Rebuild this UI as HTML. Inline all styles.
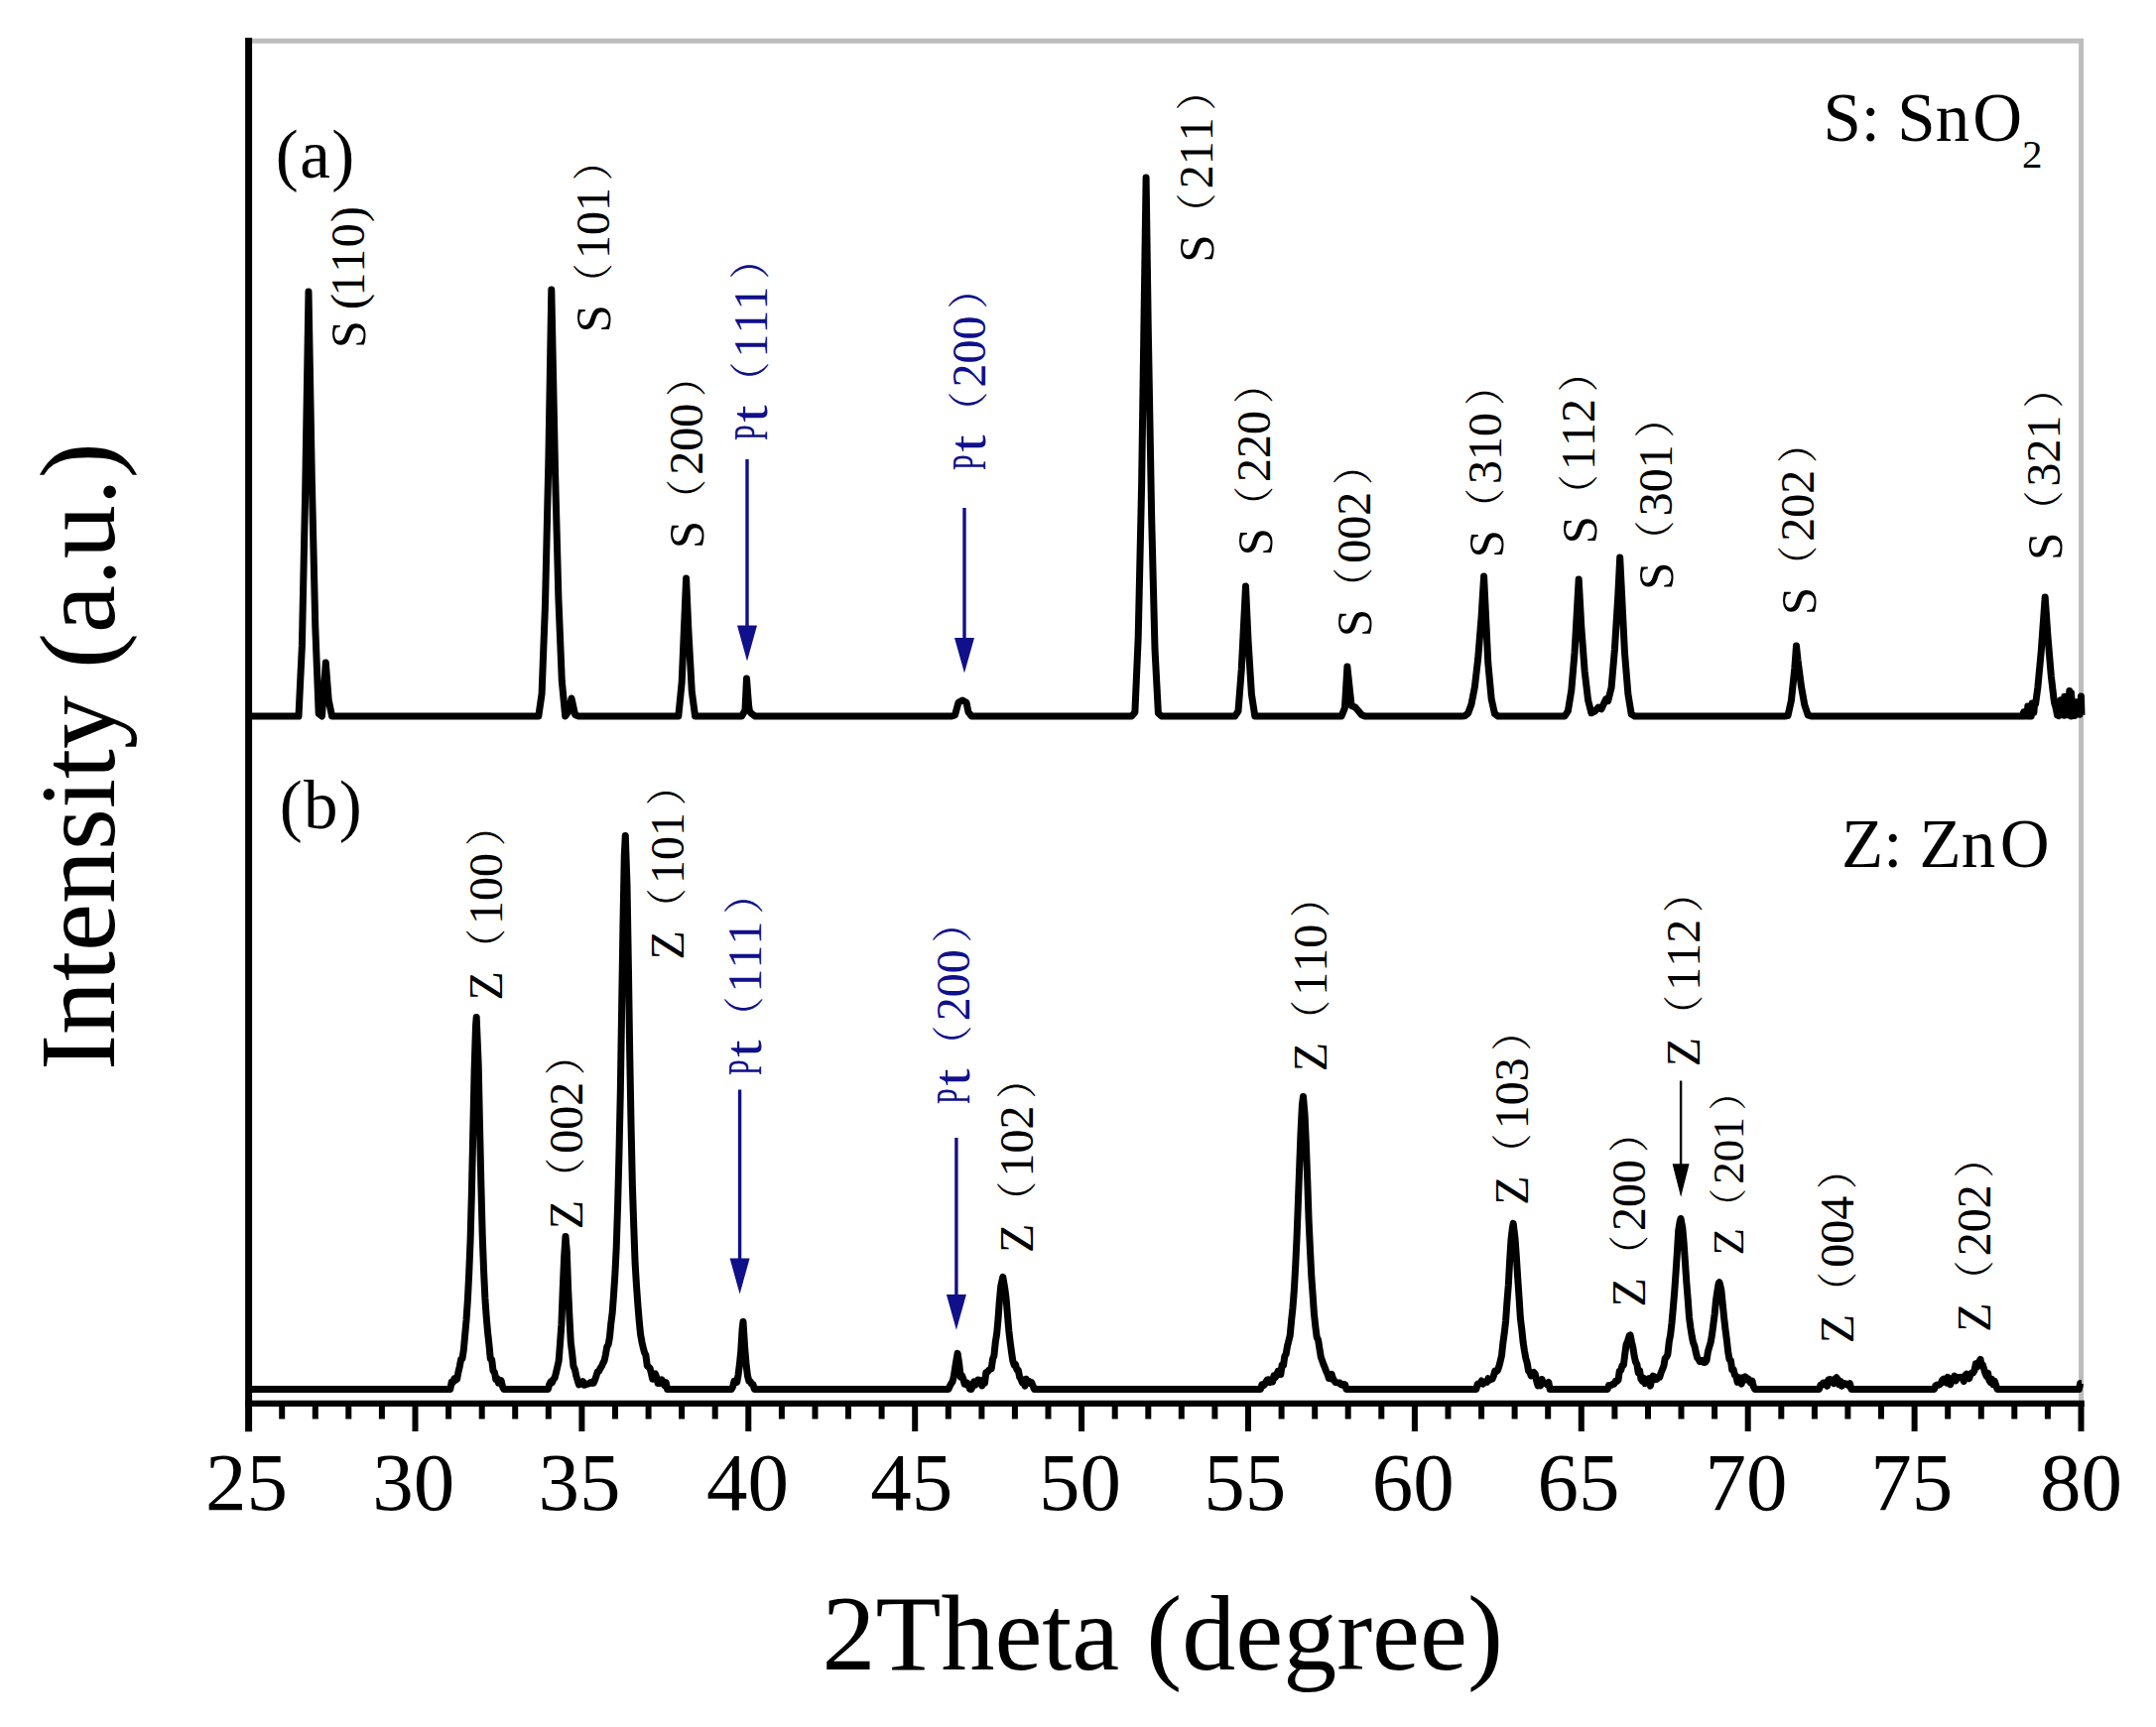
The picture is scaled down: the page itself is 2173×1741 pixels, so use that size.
<!DOCTYPE html>
<html lang="en"><head><meta charset="utf-8"><title>XRD patterns of SnO2 and ZnO</title>
<style>
html,body{margin:0;padding:0;background:#fff}
body{width:2173px;height:1741px;overflow:hidden}
svg{display:block}
text{font-family:"Liberation Serif","Noto Serif CJK SC",serif;}
text.fw{font-family:"Liberation Serif","Noto Serif CJK SC",serif;font-size:41px}
</style></head>
<body>
<svg width="2173" height="1741" viewBox="0 0 2173 1741">
<rect width="2173" height="1741" fill="#fff"/>
<path d="M254 41.3H2097.6V1412" fill="none" stroke="#bdbdbd" stroke-width="5"/>
<path d="M254.0 722.0L301.0 722.0L304.4 650.9L307.7 494.8L311.0 294.0L314.4 486.2L317.8 632.5L321.2 719.5L324.5 722.0L328.3 668.0L331.2 705.7L334.6 722.0L542.8 722.0L546.1 699.2L549.5 609.3L552.9 462.6L555.8 292.0L559.6 477.9L562.9 602.8L566.3 686.4L569.7 721.9L573.0 717.5L576.0 704.0L579.7 720.8L583.1 722.0L683.8 722.0L687.2 687.6L691.6 583.0L693.9 635.5L697.3 697.1L700.6 722.0L747.6 722.0L751.0 716.0L751.0 715.7L752.5 684.0L754.6 711.2L755.5 717.0L757.7 719.7L761.1 722.0L959.2 722.0L962.5 720.9L966.0 708.3L970.0 706.0L974.0 708.3L976.0 717.9L979.3 722.0L1140.5 722.0L1143.9 718.1L1147.2 642.5L1150.6 489.8L1155.1 179.0L1157.3 333.2L1160.7 523.1L1164.0 654.5L1167.4 719.0L1170.7 722.0L1244.6 722.0L1248.0 717.0L1251.3 674.4L1255.5 591.0L1258.0 645.1L1261.4 699.8L1264.8 722.0L1352.1 722.0L1355.4 713.6L1357.9 672.0L1362.1 711.4L1366.0 713.0L1368.9 716.4L1372.2 720.5L1375.6 722.0L1473.0 722.0L1476.3 721.8L1479.7 719.0L1483.0 710.0L1486.4 692.4L1489.7 663.7L1493.1 621.8L1495.6 581.0L1499.8 668.4L1503.2 704.8L1506.5 719.7L1509.9 722.0L1577.1 722.0L1580.4 716.6L1583.8 695.9L1587.1 657.2L1591.2 584.0L1593.8 631.9L1597.2 677.1L1600.6 705.9L1603.9 718.8L1607.3 717.2L1611.0 713.0L1614.0 714.8L1618.5 705.0L1620.7 706.6L1624.1 693.2L1627.4 654.8L1630.8 600.3L1632.7 562.0L1637.5 658.3L1640.9 699.8L1644.2 719.9L1647.6 722.0L1798.7 722.0L1802.0 721.6L1805.4 706.3L1808.8 673.8L1810.5 651.0L1812.1 666.1L1815.5 692.2L1818.8 710.7L1822.2 720.9L1825.5 722.0L2038.0 722.0L2039.7 717.8L2040.5 722.0L2041.4 717.7L2043.1 722.0L2043.8 712.0L2044.8 722.0L2046.5 715.6L2047.2 722.0L2048.2 708.9L2049.9 718.2L2050.5 709.3L2051.6 709.7L2053.9 692.6L2057.2 657.2L2061.2 602.0L2064.0 642.0L2067.3 681.3L2070.0 704.4L2070.7 709.0L2071.8 712.4L2073.5 720.7L2074.0 711.8L2075.2 721.7L2077.0 705.8L2077.4 719.5L2078.8 710.9L2080.5 721.3L2080.8 702.3L2082.2 719.2L2084.0 703.2L2084.1 720.8L2085.8 696.4L2087.5 721.9L2087.5 698.4L2089.2 721.1L2090.8 710.5L2091.0 721.6L2092.8 707.8L2094.2 719.6L2094.5 709.9L2096.2 720.3L2097.5 702.1L2098.0 720.9" fill="none" stroke="#000" stroke-width="7" stroke-linejoin="round"/>
<path d="M254.0 1400.4L453.8 1400.4L455.2 1393.2L456.5 1393.6L457.9 1389.9L459.2 1391.2L460.6 1390.3L461.9 1383.4L463.3 1377.5L464.6 1370.4L466.0 1369.6L467.3 1361.0L468.7 1345.5L470.0 1331.0L471.4 1309.9L472.7 1284.0L474.1 1249.6L475.4 1202.1L476.8 1138.9L478.1 1079.2L479.5 1034.2L480.2 1025.4L482.2 1073.8L483.5 1135.0L484.9 1195.5L486.2 1245.2L487.6 1281.9L488.9 1309.0L490.3 1328.8L491.6 1343.5L493.0 1356.0L494.3 1370.0L495.7 1370.8L497.0 1381.9L498.4 1383.2L499.7 1390.3L501.1 1389.6L502.4 1394.2L503.8 1393.8L505.1 1391.7L506.5 1397.7L507.8 1400.4L552.4 1400.4L553.7 1395.6L555.1 1392.9L556.4 1393.8L557.8 1390.4L559.1 1389.2L560.5 1383.6L561.8 1378.0L563.2 1371.7L564.5 1354.5L565.9 1335.2L567.2 1301.0L568.6 1267.8L570.0 1246.4L571.3 1261.4L572.6 1298.2L574.0 1329.0L575.3 1353.4L576.7 1364.8L578.0 1377.4L579.4 1380.4L580.7 1386.8L582.1 1391.4L583.4 1395.9L584.8 1393.3L586.1 1395.1L587.5 1392.7L588.8 1396.3L590.2 1395.9L591.5 1395.3L592.9 1395.1L594.2 1394.4L595.6 1393.4L596.9 1394.4L598.3 1394.2L599.6 1391.2L601.0 1387.0L602.3 1382.8L603.7 1382.1L605.0 1379.5L606.4 1377.4L607.7 1374.3L609.1 1371.8L610.4 1365.6L611.8 1357.5L613.1 1355.7L614.5 1347.9L615.8 1334.1L617.2 1323.2L618.5 1305.6L619.9 1284.0L621.2 1257.9L622.6 1215.2L623.9 1165.3L625.3 1100.8L626.6 1017.6L628.0 929.5L629.3 861.6L630.3 842.4L632.0 891.8L633.4 974.9L634.7 1061.6L636.1 1136.7L637.4 1195.6L638.8 1237.7L640.1 1273.3L641.5 1296.1L642.8 1314.6L644.2 1331.1L645.5 1344.6L646.9 1352.7L648.2 1358.3L649.6 1363.7L650.9 1366.1L652.3 1376.9L653.6 1377.9L655.0 1379.2L656.3 1383.9L657.7 1390.3L659.0 1385.6L660.4 1384.9L661.7 1388.3L663.1 1394.6L664.4 1394.5L665.8 1393.9L667.1 1390.9L668.5 1394.6L669.8 1396.7L671.2 1393.6L672.5 1400.4L737.3 1400.4L738.7 1397.7L740.0 1392.2L741.4 1393.2L742.7 1393.5L744.1 1385.8L745.4 1375.5L746.8 1361.7L748.1 1340.0L749.0 1332.4L750.8 1360.6L752.2 1376.8L753.5 1387.0L754.9 1392.4L756.2 1392.7L757.6 1395.4L758.9 1395.5L760.3 1400.4L956.0 1400.4L957.4 1397.1L958.7 1394.8L960.1 1392.7L961.4 1387.2L962.8 1377.8L964.1 1370.0L965.1 1364.4L966.8 1375.3L968.2 1388.2L969.5 1386.6L970.9 1390.3L972.2 1395.4L973.6 1395.7L974.9 1394.3L976.3 1397.4L977.6 1400.4L979.0 1400.4L980.3 1397.2L981.7 1392.9L983.0 1396.2L984.4 1394.3L985.7 1391.1L987.1 1391.2L988.4 1393.4L989.8 1397.0L991.1 1391.1L992.5 1394.2L993.8 1383.6L995.2 1383.0L996.5 1381.6L997.9 1380.1L999.2 1379.8L1000.6 1370.1L1001.9 1366.7L1003.3 1352.9L1004.6 1345.2L1006.0 1329.9L1007.3 1311.8L1008.7 1296.7L1010.0 1290.7L1010.8 1287.4L1012.7 1298.5L1014.1 1309.3L1015.4 1324.8L1016.8 1341.3L1018.1 1352.7L1019.5 1363.0L1020.8 1371.7L1022.2 1376.1L1023.5 1375.6L1024.9 1380.7L1026.2 1380.9L1027.6 1388.0L1028.9 1390.0L1030.3 1393.8L1031.6 1392.9L1033.0 1397.1L1034.3 1390.2L1035.7 1393.7L1037.0 1392.4L1038.4 1394.6L1039.7 1393.8L1041.1 1397.1L1042.4 1400.4L1270.5 1400.4L1271.9 1395.8L1273.2 1396.9L1274.6 1395.6L1275.9 1393.1L1277.3 1390.9L1278.6 1390.7L1280.0 1393.7L1281.3 1392.3L1282.7 1392.9L1284.0 1386.7L1285.4 1388.5L1286.7 1385.9L1288.1 1382.4L1289.4 1385.6L1290.8 1385.5L1292.1 1376.2L1293.5 1376.5L1294.8 1367.2L1296.2 1364.9L1297.5 1357.2L1298.9 1351.6L1300.2 1346.3L1301.6 1331.4L1302.9 1319.1L1304.3 1301.4L1305.6 1278.4L1307.0 1248.7L1308.3 1214.6L1309.7 1176.3L1311.0 1142.5L1312.4 1113.9L1313.5 1105.4L1315.1 1124.4L1316.4 1153.6L1317.8 1191.2L1319.1 1230.0L1320.5 1260.5L1321.8 1286.5L1323.2 1306.2L1324.5 1324.9L1325.9 1337.9L1327.2 1348.1L1328.6 1350.9L1329.9 1359.3L1331.3 1368.0L1332.6 1371.6L1334.0 1375.7L1335.3 1378.7L1336.7 1382.5L1338.0 1385.2L1339.4 1389.6L1340.7 1389.7L1342.1 1385.3L1343.4 1389.5L1344.8 1391.9L1346.1 1393.6L1347.5 1393.8L1348.8 1393.9L1350.2 1393.9L1351.5 1395.7L1352.9 1396.2L1354.2 1395.4L1355.6 1395.8L1356.9 1400.4L1487.9 1400.4L1489.2 1395.2L1490.6 1394.7L1491.9 1394.7L1493.3 1392.0L1494.6 1395.2L1496.0 1393.6L1497.3 1392.8L1498.7 1393.3L1500.0 1389.7L1501.4 1391.2L1502.7 1390.5L1504.1 1390.1L1505.4 1387.0L1506.8 1382.0L1508.1 1382.7L1509.5 1381.4L1510.8 1377.6L1512.2 1372.1L1513.5 1366.5L1514.9 1353.4L1516.2 1344.1L1517.6 1331.8L1518.9 1313.1L1520.3 1295.8L1521.6 1271.4L1523.0 1249.8L1524.3 1238.3L1525.2 1233.4L1527.0 1248.1L1528.4 1267.7L1529.7 1288.1L1531.1 1308.4L1532.4 1329.1L1533.8 1340.1L1535.1 1352.9L1536.5 1362.0L1537.8 1369.2L1539.2 1373.9L1540.5 1381.9L1541.9 1383.5L1543.2 1386.9L1544.6 1384.8L1545.9 1383.5L1547.3 1385.2L1548.6 1392.0L1550.0 1396.8L1551.3 1394.4L1552.7 1396.7L1554.0 1390.5L1555.4 1394.2L1556.7 1394.4L1558.1 1394.4L1559.4 1395.9L1560.8 1393.5L1562.1 1400.4L1620.2 1400.4L1621.5 1396.5L1622.9 1396.6L1624.2 1396.4L1625.6 1395.2L1626.9 1395.2L1628.3 1392.4L1629.6 1392.7L1631.0 1391.2L1632.3 1382.1L1633.7 1381.4L1635.0 1376.6L1636.4 1376.1L1637.7 1365.4L1639.1 1355.3L1640.4 1352.3L1642.3 1346.4L1643.1 1345.9L1644.5 1352.7L1645.8 1358.3L1647.2 1367.2L1648.5 1372.9L1649.9 1375.5L1651.2 1383.8L1652.6 1381.7L1653.9 1390.1L1655.3 1392.2L1656.6 1389.2L1658.0 1394.7L1659.3 1393.4L1660.7 1390.4L1662.0 1389.6L1663.4 1397.1L1664.7 1391.0L1666.1 1387.2L1667.4 1387.9L1668.8 1390.6L1670.1 1390.3L1671.5 1388.0L1672.8 1388.3L1674.2 1383.6L1675.5 1380.5L1676.9 1377.0L1678.2 1369.4L1679.6 1368.1L1680.9 1365.2L1682.3 1352.5L1683.6 1345.9L1685.0 1333.6L1686.3 1319.1L1687.7 1302.4L1689.0 1283.7L1690.4 1262.2L1691.7 1240.5L1693.1 1231.9L1694.0 1228.5L1695.8 1237.9L1697.1 1252.7L1698.5 1273.0L1699.8 1292.6L1701.2 1309.9L1702.5 1328.1L1703.9 1338.5L1705.2 1346.7L1706.6 1353.7L1707.9 1356.8L1709.3 1363.4L1710.6 1368.6L1712.0 1370.4L1713.3 1372.7L1714.7 1372.4L1716.0 1371.5L1717.4 1373.6L1718.7 1373.4L1720.1 1371.3L1721.4 1362.8L1722.8 1357.7L1724.1 1353.6L1725.5 1345.7L1726.8 1335.5L1728.2 1324.6L1729.5 1310.8L1730.9 1301.5L1732.2 1293.6L1732.9 1292.7L1733.6 1294.9L1734.9 1300.9L1736.3 1315.1L1737.6 1328.2L1739.0 1340.5L1740.3 1350.2L1741.7 1362.9L1743.0 1370.3L1744.4 1371.4L1745.7 1380.9L1747.1 1380.5L1748.4 1386.1L1749.8 1387.2L1751.1 1393.4L1752.5 1388.7L1753.8 1393.3L1755.2 1395.1L1756.5 1388.7L1757.9 1391.3L1759.2 1387.9L1760.6 1389.7L1762.0 1389.9L1763.3 1392.6L1764.6 1394.0L1766.0 1392.1L1767.3 1397.6L1768.7 1400.4L1833.5 1400.4L1834.8 1396.5L1836.2 1395.8L1837.5 1394.1L1838.9 1395.5L1840.2 1393.7L1841.6 1397.3L1842.9 1390.9L1844.3 1390.5L1845.6 1391.1L1847.0 1392.9L1848.3 1394.6L1849.6 1389.9L1851.0 1388.8L1852.4 1390.9L1853.7 1395.8L1855.1 1392.5L1856.4 1397.2L1857.8 1394.3L1859.1 1394.7L1860.5 1395.0L1861.8 1396.0L1863.2 1396.8L1864.5 1394.8L1865.9 1400.4L1949.6 1400.4L1950.9 1396.8L1952.3 1396.1L1953.6 1396.3L1955.0 1395.7L1956.3 1394.3L1957.7 1391.1L1959.0 1390.2L1960.4 1393.0L1961.7 1394.0L1963.1 1388.3L1964.4 1389.7L1965.8 1395.8L1967.1 1389.8L1968.5 1391.6L1969.8 1387.1L1971.2 1391.9L1972.5 1389.0L1974.0 1388.4L1975.2 1388.6L1976.6 1388.3L1977.9 1389.5L1979.3 1392.5L1980.6 1386.7L1982.0 1385.2L1983.3 1387.7L1984.7 1389.7L1986.0 1385.7L1987.4 1383.7L1988.7 1383.9L1990.1 1381.3L1991.4 1374.7L1992.8 1378.0L1994.1 1373.6L1996.1 1370.5L1996.8 1375.7L1998.2 1375.7L1999.5 1379.7L2000.9 1384.4L2002.2 1387.4L2003.6 1384.2L2004.9 1391.7L2006.3 1393.5L2007.6 1390.3L2009.0 1395.8L2010.3 1392.3L2011.7 1396.4L2013.0 1400.4L2095.4 1400.4L2096.7 1394.4L2098.0 1394.4" fill="none" stroke="#000" stroke-width="7" stroke-linejoin="round"/>
<path d="M250.6 38V1443.3" stroke="#000" stroke-width="7" fill="none"/>
<path d="M247.1 1414.8H2100.8" stroke="#000" stroke-width="6.2" fill="none"/>
<path d="M284.2 1414.8V1430.5M317.8 1414.8V1430.5M351.3 1414.8V1430.5M384.9 1414.8V1430.5M418.5 1414.8V1443M452.1 1414.8V1430.5M485.7 1414.8V1430.5M519.2 1414.8V1430.5M552.8 1414.8V1430.5M586.4 1414.8V1443M620.0 1414.8V1430.5M653.6 1414.8V1430.5M687.1 1414.8V1430.5M720.7 1414.8V1430.5M754.3 1414.8V1443M787.9 1414.8V1430.5M821.5 1414.8V1430.5M855.0 1414.8V1430.5M888.6 1414.8V1430.5M922.2 1414.8V1443M955.8 1414.8V1430.5M989.4 1414.8V1430.5M1022.9 1414.8V1430.5M1056.5 1414.8V1430.5M1090.1 1414.8V1443M1123.7 1414.8V1430.5M1157.3 1414.8V1430.5M1190.8 1414.8V1430.5M1224.4 1414.8V1430.5M1258.0 1414.8V1443M1291.6 1414.8V1430.5M1325.2 1414.8V1430.5M1358.7 1414.8V1430.5M1392.3 1414.8V1430.5M1425.9 1414.8V1443M1459.5 1414.8V1430.5M1493.1 1414.8V1430.5M1526.6 1414.8V1430.5M1560.2 1414.8V1430.5M1593.8 1414.8V1443M1627.4 1414.8V1430.5M1661.0 1414.8V1430.5M1694.5 1414.8V1430.5M1728.1 1414.8V1430.5M1761.7 1414.8V1443M1795.3 1414.8V1430.5M1828.9 1414.8V1430.5M1862.4 1414.8V1430.5M1896.0 1414.8V1430.5M1929.6 1414.8V1443M1963.2 1414.8V1430.5M1996.8 1414.8V1430.5M2030.3 1414.8V1430.5M2063.9 1414.8V1430.5M2097.5 1414.8V1443" stroke="#000" stroke-width="6" fill="none"/>
<g font-size="83" text-anchor="middle"><text x="248.4" y="1522.3">25</text><text x="416.8" y="1522.3">30</text><text x="583.9" y="1522.3">35</text><text x="753.6" y="1522.3">40</text><text x="918.7" y="1522.3">45</text><text x="1088.4" y="1522.3">50</text><text x="1254.7" y="1522.3">55</text><text x="1424.2" y="1522.3">60</text><text x="1591.0" y="1522.3">65</text><text x="1760.0" y="1522.3">70</text><text x="1926.8" y="1522.3">75</text><text x="2097.4" y="1522.3">80</text></g>
<text x="1171.7" y="1683" font-size="108" text-anchor="middle">2Theta (degree)</text>
<text transform="translate(115 762.6) rotate(-90)" font-size="108" text-anchor="middle">Intensity (a.u.)</text>
<text x="277.7" y="179" font-size="69" letter-spacing="1.5">(a)</text>
<text x="281.7" y="835" font-size="69" letter-spacing="1.3">(b)</text>
<text x="1837.5" y="142" font-size="69">S: Sn<tspan dx="3">O</tspan><tspan font-size="41" dx="0" dy="26.5">2</tspan></text>
<text x="1856" y="873.5" font-size="69">Z: Zn<tspan dx="4.5">O</tspan></text>
<g transform="translate(366.8 347) rotate(-90)" font-size="48"><text x="-4" y="1.2" font-size="50">S</text><text x="35" y="0.5">(</text><text x="48.4 72.2 97.7" y="0">110</text><text x="123" y="0.5">)</text></g>
<g transform="translate(614.0 332.0) rotate(-90)" fill="#000" font-size="48"><text x="-3.6" y="1.4" font-size="51">S</text><text class="fw" x="25.8" y="-1.4">（</text><text x="71.0 95.0 119.0" y="0">101</text><text class="fw" x="149.8" y="-1.4">）</text></g>
<g transform="translate(708.0 549.7) rotate(-90)" fill="#000" font-size="48"><text x="-3.6" y="1.4" font-size="51">S</text><text class="fw" x="25.8" y="-1.4">（</text><text x="71.0 95.0 119.0" y="0">200</text><text class="fw" x="149.8" y="-1.4">）</text></g>
<g transform="translate(772.5 443.4) rotate(-90)" fill="#10108a" font-size="48"><text transform="translate(-0.6 0) scale(0.58 1)">P</text><text transform="translate(17.8 0) scale(1.28 1.1)">t</text><text class="fw" x="37.8" y="-1.4">（</text><text x="83.0 107.0 131.0" y="0">111</text><text class="fw" x="161.8" y="-1.4">）</text></g>
<g transform="translate(992.5 473.4) rotate(-90)" fill="#10108a" font-size="48"><text transform="translate(-0.6 0) scale(0.58 1)">P</text><text transform="translate(17.8 0) scale(1.28 1.1)">t</text><text class="fw" x="37.8" y="-1.4">（</text><text x="83.0 107.0 131.0" y="0">200</text><text class="fw" x="161.8" y="-1.4">）</text></g>
<g transform="translate(1222.0 261.2) rotate(-90)" fill="#000" font-size="48"><text x="-3.6" y="1.4" font-size="51">S</text><text class="fw" x="25.8" y="-1.4">（</text><text x="71.0 95.0 119.0" y="0">211</text><text class="fw" x="149.8" y="-1.4">）</text></g>
<g transform="translate(1280.3 556.9) rotate(-90)" fill="#000" font-size="48"><text x="-3.6" y="1.4" font-size="51">S</text><text class="fw" x="25.8" y="-1.4">（</text><text x="71.0 95.0 119.0" y="0">220</text><text class="fw" x="149.8" y="-1.4">）</text></g>
<g transform="translate(1380.8 638.7) rotate(-90)" fill="#000" font-size="48"><text x="-3.6" y="1.4" font-size="51">S</text><text class="fw" x="25.8" y="-1.4">（</text><text x="71.0 95.0 119.0" y="0">002</text><text class="fw" x="149.8" y="-1.4">）</text></g>
<g transform="translate(1513.3 558.9) rotate(-90)" fill="#000" font-size="48"><text x="-3.6" y="1.4" font-size="51">S</text><text class="fw" x="25.8" y="-1.4">（</text><text x="71.0 95.0 119.0" y="0">310</text><text class="fw" x="149.8" y="-1.4">）</text></g>
<g transform="translate(1607.3 545.0) rotate(-90)" fill="#000" font-size="48"><text x="-3.6" y="1.4" font-size="51">S</text><text class="fw" x="25.8" y="-1.4">（</text><text x="71.0 95.0 119.0" y="0">112</text><text class="fw" x="149.8" y="-1.4">）</text></g>
<g transform="translate(1684.8 591.3) rotate(-90)" fill="#000" font-size="48"><text x="-3.6" y="1.4" font-size="51">S</text><text class="fw" x="25.8" y="-1.4">（</text><text x="71.0 95.0 119.0" y="0">301</text><text class="fw" x="149.8" y="-1.4">）</text></g>
<g transform="translate(1828.3 616.7) rotate(-90)" fill="#000" font-size="48"><text x="-3.6" y="1.4" font-size="51">S</text><text class="fw" x="25.8" y="-1.4">（</text><text x="71.0 95.0 119.0" y="0">202</text><text class="fw" x="149.8" y="-1.4">）</text></g>
<g transform="translate(2076.3 561.4) rotate(-90)" fill="#000" font-size="48"><text x="-3.6" y="1.4" font-size="51">S</text><text class="fw" x="25.8" y="-1.4">（</text><text x="71.0 95.0 119.0" y="0">321</text><text class="fw" x="149.8" y="-1.4">）</text></g>
<g transform="translate(506.0 1005.4) rotate(-90)" fill="#000" font-size="48"><text x="-3" y="0">Z</text><text class="fw" x="28.3" y="-1.4">（</text><text x="73.5 97.5 121.5" y="0">100</text><text class="fw" x="152.3" y="-1.4">）</text></g>
<g transform="translate(586.6 1236.3) rotate(-90)" fill="#000" font-size="48"><text x="-3" y="0">Z</text><text class="fw" x="28.3" y="-1.4">（</text><text x="73.5 97.5 121.5" y="0">002</text><text class="fw" x="152.3" y="-1.4">）</text></g>
<g transform="translate(688.8 964.6) rotate(-90)" fill="#000" font-size="48"><text x="-3" y="0">Z</text><text class="fw" x="28.3" y="-1.4">（</text><text x="73.5 97.5 121.5" y="0">101</text><text class="fw" x="152.3" y="-1.4">）</text></g>
<g transform="translate(766.7 1083.4) rotate(-90)" fill="#10108a" font-size="48"><text transform="translate(-0.6 0) scale(0.58 1)">P</text><text transform="translate(17.8 0) scale(1.28 1.1)">t</text><text class="fw" x="37.8" y="-1.4">（</text><text x="83.0 107.0 131.0" y="0">111</text><text class="fw" x="161.8" y="-1.4">）</text></g>
<g transform="translate(976.6 1112.3) rotate(-90)" fill="#10108a" font-size="48"><text transform="translate(-0.6 0) scale(0.58 1)">P</text><text transform="translate(17.8 0) scale(1.28 1.1)">t</text><text class="fw" x="37.8" y="-1.4">（</text><text x="83.0 107.0 131.0" y="0">200</text><text class="fw" x="161.8" y="-1.4">）</text></g>
<g transform="translate(1041.4 1260.0) rotate(-90)" fill="#000" font-size="48"><text x="-3" y="0">Z</text><text class="fw" x="28.3" y="-1.4">（</text><text x="73.5 97.5 121.5" y="0">102</text><text class="fw" x="152.3" y="-1.4">）</text></g>
<g transform="translate(1337.4 1077.3) rotate(-90)" fill="#000" font-size="48"><text x="-3" y="0">Z</text><text class="fw" x="28.3" y="-1.4">（</text><text x="73.5 97.5 121.5" y="0">110</text><text class="fw" x="152.3" y="-1.4">）</text></g>
<g transform="translate(1540.1 1211.8) rotate(-90)" fill="#000" font-size="48"><text x="-3" y="0">Z</text><text class="fw" x="28.3" y="-1.4">（</text><text x="73.5 97.5 121.5" y="0">103</text><text class="fw" x="152.3" y="-1.4">）</text></g>
<g transform="translate(1658.0 1314.4) rotate(-90)" fill="#000" font-size="48"><text x="-3" y="0">Z</text><text class="fw" x="28.3" y="-1.4">（</text><text x="73.5 97.5 121.5" y="0">200</text><text class="fw" x="152.3" y="-1.4">）</text></g>
<g transform="translate(1713.1 1072.3) rotate(-90)" fill="#000" font-size="48"><text x="-3" y="0">Z</text><text class="fw" x="28.3" y="-1.4">（</text><text x="73.5 97.5 121.5" y="0">112</text><text class="fw" x="152.3" y="-1.4">）</text></g>
<g transform="translate(1756.5 1262.8) rotate(-90) scale(0.94)" fill="#000" font-size="48"><text x="-3" y="0">Z</text><text class="fw" x="28.3" y="-1.4">（</text><text x="73.5 97.5 121.5" y="0">201</text><text class="fw" x="152.3" y="-1.4">）</text></g>
<g transform="translate(1868.0 1351.2) rotate(-90)" fill="#000" font-size="48"><text x="-3" y="0">Z</text><text class="fw" x="28.3" y="-1.4">（</text><text x="73.5 97.5 121.5" y="0">004</text><text class="fw" x="152.3" y="-1.4">）</text></g>
<g transform="translate(2006.4 1339.7) rotate(-90)" fill="#000" font-size="48"><text x="-3" y="0">Z</text><text class="fw" x="28.3" y="-1.4">（</text><text x="73.5 97.5 121.5" y="0">202</text><text class="fw" x="152.3" y="-1.4">）</text></g>
<path d="M753.0 463.0V632.6" stroke="#10108a" stroke-width="3.4" fill="none"/><path d="M743.0 630.6L763.0 630.6L753.0 666.5Z" fill="#10108a"/>
<path d="M972.0 512.0V645.0" stroke="#10108a" stroke-width="3.4" fill="none"/><path d="M962.0 643.0L982.0 643.0L972.0 678.5Z" fill="#10108a"/>
<path d="M745.6 1098.5V1270.5" stroke="#10108a" stroke-width="3.4" fill="none"/><path d="M735.6 1268.5L755.6 1268.5L745.6 1304.5Z" fill="#10108a"/>
<path d="M963.9 1147.0V1307.1" stroke="#10108a" stroke-width="3.4" fill="none"/><path d="M953.9 1305.1L973.9 1305.1L963.9 1340.8Z" fill="#10108a"/>
<path d="M1694.1 1089.5V1175.2" stroke="#000" stroke-width="2.4" fill="none"/><path d="M1685.6 1173.2L1702.6 1173.2L1694.1 1206.7Z" fill="#000"/>
</svg>
</body></html>
